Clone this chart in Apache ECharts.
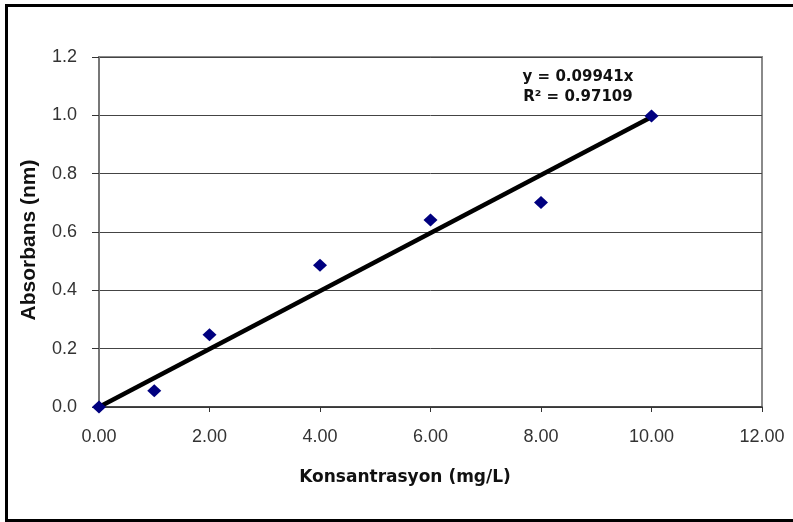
<!DOCTYPE html>
<html>
<head>
<meta charset="utf-8">
<script src="https://cdn.jsdelivr.net/npm/echarts@6/dist/echarts.min.js"></script>
<style>html,body{margin:0;padding:0;background:#fff}#c{width:793px;height:522px}</style>
</head>
<body>
<div id="c"></div>
<script>
const concentrations = [0, 1, 2, 4, 6, 8, 10];
const absorbance = [0, 0.056, 0.248, 0.486, 0.641, 0.701, 0.998];
const trendSlope = 0.09941;
const trendRange = [0, 10];
const equationLines = ['y = 0.09941x', 'R² = 0.97109'];
const xTitle = 'Konsantrasyon (mg/L)';
const yTitle = 'Absorbans (nm)';

const points = concentrations.map((x, i) => [x, absorbance[i]]);
const trend = trendRange.map(x => [x, trendSlope * x]);

const chart = echarts.init(document.getElementById('c'), null, {renderer: 'canvas'});
chart.setOption({
  animation: false,
  backgroundColor: '#fff',
  grid: {left: 99, right: 31, top: 57, bottom: 115, show: true, borderColor: '#8a8a8a', borderWidth: 2, backgroundColor: 'transparent'},
  xAxis: {
    type: 'value', min: 0, max: 12, interval: 2,
    axisLine: {show: true, onZero: false, lineStyle: {color: '#333', width: 1.5}},
    axisTick: {show: true, length: 5, inside: false, lineStyle: {color: '#333'}},
    axisLabel: {margin: 21, color: '#333', fontFamily: 'Liberation Sans', fontSize: 18, formatter: v => v.toFixed(2)},
    splitLine: {show: false}
  },
  yAxis: {
    type: 'value', min: 0, max: 1.2, interval: 0.2,
    axisLine: {show: true, onZero: false, lineStyle: {color: '#777', width: 2}},
    axisTick: {show: true, length: 7, lineStyle: {color: '#333'}},
    axisLabel: {margin: 22, color: '#333', fontFamily: 'Liberation Sans', fontSize: 18, formatter: v => v.toFixed(1)},
    splitLine: {show: true, lineStyle: {color: '#444', width: 1}}
  },
  series: [
    {
      type: 'line', data: trend, symbol: 'none', z: 2,
      lineStyle: {color: '#000', width: 4.5}
    },
    {
      type: 'scatter', data: points, symbol: 'diamond', symbolSize: [14, 13], z: 3,
      itemStyle: {color: '#00007f', opacity: 1}
    }
  ],
  graphic: [
    {type: 'rect', shape: {x: 6.5, y: 5.5, width: 800, height: 515}, style: {fill: 'none', stroke: '#000', lineWidth: 3}, silent: true},
    {type: 'text', x: 578, y: 77, style: {text: equationLines[0], fill: '#111', font: 'bold 15px "DejaVu Sans"', align: 'center', verticalAlign: 'middle'}},
    {type: 'text', x: 578, y: 97, style: {text: equationLines[1], fill: '#111', font: 'bold 15px "DejaVu Sans"', align: 'center', verticalAlign: 'middle'}},
    {type: 'text', x: 405, y: 478, style: {text: xTitle, fill: '#111', font: 'bold 17px "DejaVu Sans"', align: 'center', verticalAlign: 'middle'}},
    {type: 'text', x: 29, y: 240, rotation: Math.PI / 2, style: {text: yTitle, fill: '#111', font: 'bold 21px "Liberation Sans"', align: 'center', verticalAlign: 'middle'}}
  ]
});
</script>
</body>
</html>
